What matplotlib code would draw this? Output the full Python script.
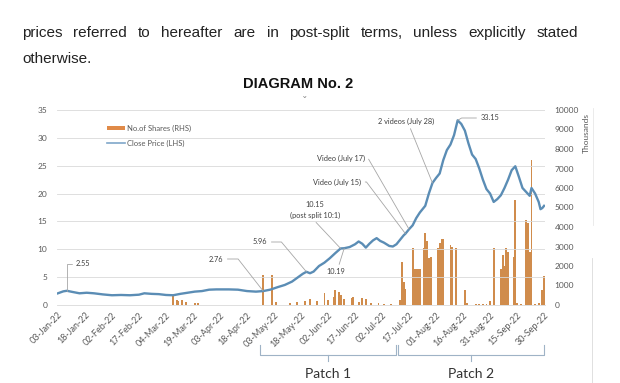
import pandas as pd
import matplotlib
matplotlib.use("Agg")
import matplotlib.pyplot as plt
import matplotlib.dates as mdates
import matplotlib.transforms as mtrans
from matplotlib.lines import Line2D
from matplotlib.patches import Patch

# ---------------------------------------------------------------------------
# Data (days counted from 03-Jan-22)
# ---------------------------------------------------------------------------
START = pd.Timestamp("2022-01-03")

price_days = [0, 3, 5, 8, 12, 16, 20, 25, 30, 35, 40, 45, 48, 52, 56, 60, 64, 68,
              72, 76, 80, 84, 88, 95, 100, 105, 110, 114, 118, 122, 126, 130, 133,
              136, 138, 140, 142, 145, 148, 151, 154, 157, 159, 162, 165, 167, 169,
              171, 173, 175, 177, 179, 181, 184, 186, 188, 190, 192, 193, 195, 197,
              199, 201, 204, 206, 208, 210, 212, 214, 216, 218, 220, 222, 224, 226,
              228, 230, 232, 234, 236, 238, 240, 242, 244, 246, 248, 250, 252, 254,
              256, 258, 260, 262, 263, 265, 267, 268, 269, 270]
price_vals = [2.1, 2.45, 2.55, 2.35, 2.1, 2.2, 2.1, 1.9, 1.75, 1.8, 1.75, 1.85, 2.1,
              2.0, 1.95, 1.8, 1.75, 2.0, 2.2, 2.4, 2.5, 2.75, 2.8, 2.8, 2.75, 2.5,
              2.4, 2.5, 2.76, 3.2, 3.6, 4.2, 4.9, 5.6, 5.96, 5.7, 6.0, 7.0, 7.6, 8.4,
              9.3, 10.15, 10.19, 10.4, 10.9, 11.4, 11.0, 10.3, 11.0, 11.6, 12.0, 11.5,
              11.2, 10.6, 10.5, 10.9, 11.7, 12.5, 12.8, 13.6, 14.3, 15.6, 16.6, 17.8,
              20.0, 21.9, 22.8, 23.6, 26.0, 27.8, 28.8, 30.5, 33.15, 32.5, 31.3, 29.0,
              27.0, 26.2, 24.5, 22.5, 20.8, 20.0, 18.5, 19.0, 19.7, 21.0, 22.5, 24.2,
              24.9, 23.0, 21.0, 20.3, 19.6, 21.0, 20.0, 18.5, 17.2, 17.4, 17.8]

share_days = [64, 66, 67, 69, 71, 76, 78, 114, 119, 121, 129, 133, 137, 140, 144, 148,
              150, 153, 154, 156, 157, 159, 163, 164, 167, 169, 171, 174, 178, 181, 185,
              190, 191, 192, 193, 197, 198, 199, 200, 201, 203, 204, 205, 206, 207, 211,
              212, 213, 214, 218, 219, 221, 226, 227, 232, 234, 236, 238, 240, 242, 246,
              247, 248, 249, 250, 253, 254, 255, 257, 260, 261, 262, 263, 265, 267, 269,
              270]
share_vals = [500, 250, 200, 250, 150, 100, 120, 1550, 1550, 150, 100, 150, 200, 300,
              200, 600, 250, 400, 750, 650, 500, 300, 350, 400, 150, 350, 300, 100, 80,
              60, 50, 250, 2200, 1200, 800, 2900, 1850, 1850, 1850, 1850, 2900, 3700,
              3300, 2400, 2450, 2900, 3200, 3400, 3400, 3100, 2950, 2900, 770, 100, 40,
              50, 30, 60, 200, 2900, 1850, 2550, 2000, 2900, 2700, 2450, 5400, 80, 60,
              4350, 4200, 2700, 7450, 60, 120, 770, 1500]

tick_days = [0, 15, 30, 45, 60, 75, 90, 105, 120, 135, 150, 165, 180, 195, 210, 225,
             240, 255, 270]

# label text, anchor day, text position (figure px from top-left), relpos, connection
notes = [
    ("2.55", 5, (83, 264), (0, 0.5), "angle,angleA=0,angleB=90,rad=0"),
    ("2.76", 114, (216, 259), (1, 0.5), "angle,angleA=0,angleB=128,rad=0"),
    ("5.96", 138, (260, 242), (1, 0.5), "angle,angleA=0,angleB=130,rad=0"),
    ("10.15\n(post split 10:1)", 157, (315, 210), (0.45, 0), "arc3"),
    ("10.19", 159, (336, 272), (0.6, 1), "arc3"),
    ("Video (July 15)", 193, (337, 182), (1, 0.5), "angle,angleA=0,angleB=127,rad=0"),
    ("Video (July 17)", 195, (341, 158), (1, 0.5), "angle,angleA=0,angleB=120,rad=0"),
    ("2 videos (July 28)", 208, (406, 121), (0.55, 0), "arc3"),
    ("33.15", 222, (490, 118), (0, 0.5), "angle,angleA=180,angleB=30,rad=0"),
]

patches = [("Patch 1", 112, 188), ("Patch 2", 189, 270)]

PARA_LINE1 = "prices referred to hereafter are in post-split terms, unless explicitly stated"
PARA_LINE2 = "otherwise."
TITLE = "DIAGRAM No. 2"

# ---------------------------------------------------------------------------
W, H = 620, 383
LINE_C = "#5B8DB5"
BAR_C = "#D08C4C"
GRID_C = "#D9D9D9"
TXT_C = "#595959"
NOTE_C = "#A6A6A6"
CHART_FONT = ["Lato", "DejaVu Sans"]


def fx(px):
    return px / W


def fy(py):
    return 1 - py / H


def day2date(d):
    return START + pd.Timedelta(days=d)


fig = plt.figure(figsize=(W / 100, H / 100), dpi=100)
fig.patch.set_facecolor("white")

# paragraph (justified) ------------------------------------------------------
renderer = fig.canvas.get_renderer()
words = PARA_LINE1.split()
word_txt = [fig.text(0, fy(33), w, fontsize=11, family="Liberation Sans",
                     color="#222222", va="center") for w in words]
widths = [t.get_window_extent(renderer).width for t in word_txt]
gap = (578 - 22 - sum(widths)) / (len(words) - 1)
x = 22
for t, w in zip(word_txt, widths):
    t.set_x(fx(x))
    x += w + gap
fig.text(fx(22), fy(59), PARA_LINE2, fontsize=11, family="Liberation Sans",
         color="#222222", va="center")
fig.text(fx(298), fy(84), TITLE, fontsize=10.5, family="Liberation Sans",
         weight="bold", color="#111111", ha="center", va="center")
fig.text(fx(305), fy(102), "ˇ", fontsize=8, color="#8a8a8a", ha="center", va="center")

# axes -----------------------------------------------------------------------
ax = fig.add_axes([fx(57), fy(305), fx(545 - 57), 195 / H])
ax2 = ax.twinx()
ax.set_zorder(ax2.get_zorder() + 1)
ax.patch.set_visible(False)

share_dates = [day2date(d) for d in share_days]
ax2.bar(share_dates, share_vals, width=1.0, color=BAR_C, linewidth=0)

price_dates = [day2date(d) for d in price_days]
ax.plot(price_dates, price_vals, color=LINE_C, lw=1.7, solid_joinstyle="round")

ax.set_xlim(day2date(-0.5), day2date(270.5))
ax.set_ylim(0, 35)
ax.set_yticks(range(0, 36, 5))
ax2.set_ylim(0, 10000)
ax2.set_yticks(range(0, 10001, 1000))

ticks = [day2date(d) for d in tick_days]
ax.set_xticks(ticks)
ax.set_xticklabels([t.strftime("%d-%b-%y") for t in ticks], rotation=45,
                   ha="right", rotation_mode="anchor", family=CHART_FONT)
ax.grid(axis="y", color=GRID_C, lw=0.6)
ax.set_axisbelow(True)

for a in (ax, ax2):
    for s in a.spines.values():
        s.set_visible(False)
    a.tick_params(length=0, labelsize=6, colors=TXT_C)
ax.tick_params(axis="y", pad=7)
ax.tick_params(axis="x", pad=4, labelsize=6.5)
ax2.tick_params(axis="y", pad=7)
for lab in ax.get_yticklabels() + ax2.get_yticklabels():
    lab.set_family(CHART_FONT)
ax.spines["bottom"].set_visible(True)
ax.spines["bottom"].set_color(GRID_C)
ax.spines["bottom"].set_linewidth(0.6)

fig.text(fx(586), fy(133), "Thousands", rotation=90, fontsize=6, color=TXT_C,
         ha="center", va="center", family=CHART_FONT)

# legend
handles = [Patch(facecolor="#E08A48", edgecolor="none", label="No.of Shares (RHS)"),
           Line2D([], [], color="#7FA7C9", lw=1.2, label="Close Price (LHS)")]
leg = ax.legend(handles=handles, loc="upper left", bbox_to_anchor=(fx(100), fy(118)),
                bbox_transform=fig.transFigure, frameon=False,
                handlelength=2.4, handleheight=0.45, labelspacing=1.0,
                handletextpad=0.2, prop={"family": CHART_FONT, "size": 5.5})
for t in leg.get_texts():
    t.set_color(TXT_C)

# annotations
price_map = dict(zip(price_days, price_vals))
for text, day, (tx, ty), rel, conn in notes:
    ax.annotate(text, xy=(day2date(day), price_map[day]), xycoords="data",
                xytext=(tx, H - ty), textcoords="figure pixels",
                ha="center", va="center", fontsize=5.3, color="#404040",
                family=CHART_FONT, linespacing=1.5,
                arrowprops=dict(arrowstyle="-", color=NOTE_C, lw=0.6,
                                shrinkA=1, shrinkB=0, relpos=rel,
                                connectionstyle=conn))

# patch brackets below the axis
blend = mtrans.blended_transform_factory(ax.transData, fig.transFigure)
for name, d0, d1 in patches:
    x0, x1 = mdates.date2num(day2date(d0)), mdates.date2num(day2date(d1))
    xm = (x0 + x1) / 2
    ax.plot([x0, x0, x1, x1], [fy(345), fy(355), fy(355), fy(345)], color="#9FB3C6",
            lw=0.8, transform=blend, clip_on=False)
    ax.plot([xm, xm], [fy(355), fy(361)], color="#9FB3C6", lw=0.8,
            transform=blend, clip_on=False)
    ax.text(xm, fy(374), name, transform=blend, ha="center", va="center",
            fontsize=10, color="#333333", family=CHART_FONT)

# faint page edge line on the right
fig.add_artist(Line2D([fx(592), fx(592)], [fy(258), fy(383)], color="#DADADA", lw=0.6))
fig.add_artist(Line2D([fx(593), fx(593)], [fy(108), fy(225)], color="#E8E8E8", lw=0.6))

fig.savefig("out.png", dpi=100)
